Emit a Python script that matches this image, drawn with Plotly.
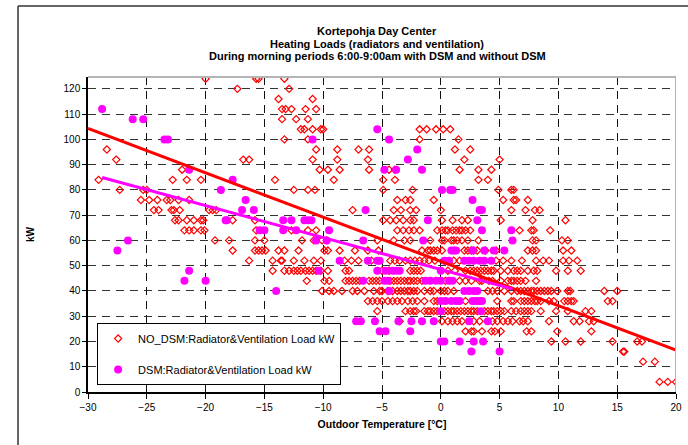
import plotly.graph_objects as go

# ---------------------------------------------------------------
# Heating loads (kW) vs outdoor temperature, morning periods.
# Loads are logged in 4 kW steps, so each list holds the outdoor
# temperatures observed at one load level.
# ---------------------------------------------------------------

# NO_DSM: radiator & ventilation load, temperatures per load level
nodsm_124 = [-20.0, -15.7, -15.5, -13.3]
nodsm_120 = [-17.3, -12.9]
nodsm_116 = [-13.8, -10.9]
nodsm_112 = [-13.5, -13.2, -12.7, -11.5, -10.6]
nodsm_108 = [-13.5, -12.3, -11.3]
nodsm_104 = [-11.9, -11.6, -10.9, -10.2, -10.0, -1.8, -1.2, -0.4, 0.2, 0.8]
nodsm_100 = [-13.3, -11.3, -1.8, 1.5]
nodsm_96 = [-28.4, -10.6, -8.8, -7.0, -6.1, 1.2, 2.5]
nodsm_92 = [-27.6, -16.8, -16.3, -10.9, -8.8, -6.2, 2.0, 5.0]
nodsm_88 = [-22.0, -10.3, -9.6, -8.6, -6.1, -4.4, -3.9, 1.6, 3.2, 4.3]
nodsm_84 = [-29.1, -22.8, -21.6, -20.4, -14.1, -9.1, -4.9, -3.9, 3.2, 4.0]
nodsm_80 = [-27.3, -25.3, -25.0, -12.5, -11.3, -10.7, -4.9, -2.4, 4.9, 6.0, 6.2]
nodsm_76 = [-25.5, -24.8, -24.1, -23.3, -23.0, -22.3, -21.4, -3.7, -3.0, -2.6,
            -0.6, 5.3, 6.2, 6.4, 7.4]
nodsm_72 = [-24.4, -24.0, -22.9, -22.7, -22.2, -19.7, -19.4, -19.1, -7.5, -4.0,
            -3.4, -2.6, -2.1, 0.0, 6.0, 7.2, 8.0, 8.4]
nodsm_68 = [-22.6, -22.3, -21.6, -21.0, -20.4, -20.2, -17.7, -15.8, -4.9, -4.3,
            -3.8, -3.2, -2.6, -2.3, 0.1, 1.0, 1.8, 2.3, 5.1, 7.8, 10.6]
nodsm_64 = [-21.8, -21.4, -21.0, -20.4, -20.1, -15.7, -12.7, -11.3, -10.6, -3.7,
            -3.2, -2.7, -2.3, -1.8, -0.3, 0.1, 0.4, 0.6, 1.0, 1.3, 1.6, 1.8,
            2.1, 2.5, 6.7, 7.7, 7.9, 9.3]
nodsm_60 = [-19.2, -18.0, -15.8, -15.0, -11.8, -10.8, -10.1, -9.7, -5.4, -4.0,
            -3.1, -2.6, -0.9, 0.1, 0.3, 0.9, 1.1, 1.4, 1.8, 2.3, 3.2, 7.8, 8.1,
            10.3, 10.8]
nodsm_56 = [-17.7, -15.8, -15.5, -15.2, -14.9, -13.8, -13.3, -12.1, -9.9, -9.6,
            -8.6, -7.3, -6.2, -5.3, -1.6, -1.1, -0.9, -0.6, -0.3, 0.1, 2.0, 2.3,
            2.6, 2.8, 3.1, 3.8, 4.7, 7.4, 7.8, 8.1, 10.4, 11.1]
nodsm_52 = [-16.3, -14.3, -13.6, -13.5, -12.5, -11.6, -10.8, -10.2, -8.2, -7.6,
            -7.0, -5.9, -4.3, -3.9, -3.5, -3.0, -2.6, -2.2, -1.8, -1.4, -1.0,
            -0.5, 1.1, 1.6, 4.7, 5.3, 6.0, 6.9, 8.1, 8.7, 9.2, 10.4, 10.9, 11.6]
nodsm_48 = [-14.3, -13.3, -12.9, -12.5, -12.2, -11.9, -11.5, -11.2, -10.9, -10.6,
            -10.2, -9.6, -8.1, -7.8, -5.0, -4.4, -2.6, -2.3, -2.0, -1.7, 0.6, 1.2,
            2.1, 2.5, 2.8, 3.1, 3.4, 3.7, 4.0, 4.3, 4.5, 5.1, 5.7, 6.2, 6.5, 6.8,
            7.4, 7.9, 8.2, 9.8, 10.8, 11.9]
nodsm_44 = [-11.4, -9.9, -9.5, -8.1, -7.8, -7.5, -7.2, -6.9, -6.1, -5.8, -5.5,
            -5.2, -4.3, -4.0, -3.7, -3.4, -3.1, -2.8, -2.6, -2.3, -2.0, -1.6, 0.4,
            1.6, 2.1, 2.6, 3.3, 3.5, 4.1, 4.4, 5.1, 5.7, 6.0, 6.2, 6.5, 6.8, 7.2,
            8.1]
nodsm_40 = [-10.1, -9.5, -9.1, -8.4, -7.5, -7.1, -6.5, -5.7, -5.2, -5.0, -4.5,
            -4.1, -3.7, -3.4, -3.1, -2.8, -2.6, -2.3, -2.0, -1.4, -0.9, -0.6, 0.0,
            0.3, 0.6, 1.1, 4.0, 4.4, 4.8, 5.4, 6.0, 6.5, 6.8, 7.1, 7.4, 7.7, 7.9,
            8.2, 8.5, 8.8, 9.1, 9.4, 9.9, 10.8, 11.0, 13.9, 15.0]
nodsm_36 = [-6.2, -5.8, -5.4, -5.0, -4.5, -4.1, -3.7, -3.3, -2.8, -2.4, -2.0,
            -1.4, -0.6, -0.3, 2.1, 4.8, 6.0, 6.2, 6.8, 7.1, 7.4, 7.7, 8.0, 8.2,
            8.5, 9.2, 9.6, 10.5, 10.8, 11.1, 11.3, 14.2, 14.6]
nodsm_32 = [-5.4, -3.0, -2.6, -2.3, -2.1, -1.4, -1.1, -0.9, -0.6, -0.3, 0.3, 0.6,
            0.9, 1.1, 1.4, 1.7, 2.0, 2.3, 2.6, 2.8, 3.1, 3.7, 4.0, 4.3, 4.5, 4.8,
            5.1, 5.4, 6.0, 6.4, 6.8, 7.1, 7.4, 7.7, 8.5, 9.8, 10.8, 12.3, 12.8]
nodsm_28 = [-3.5, 0.1, 0.6, 1.0, 1.4, 1.8, 2.8, 3.3, 4.4, 4.8, 5.3, 5.7, 6.1,
            6.7, 7.0, 7.4, 9.2, 11.3, 11.8, 12.6, 13.0]
nodsm_24 = [2.1, 2.6, 2.8, 3.5, 4.3, 4.6, 5.1, 7.3, 7.7, 9.9, 12.8]
nodsm_20 = [9.4, 10.6, 11.9, 14.6, 16.7, 17.1]
nodsm_16 = [15.5, 15.6]
nodsm_12 = [17.2, 18.2]
nodsm_4 = [18.6, 19.3, 20.0]

# DSM: radiator & ventilation load, temperatures per load level
dsm_112 = [-28.8]
dsm_108 = [-26.2, -25.3]
dsm_104 = [-5.4]
dsm_100 = [-23.5, -23.2, -10.9, -4.4]
dsm_96 = [-2.0]
dsm_92 = [-2.8]
dsm_88 = [-21.4, -4.8, -3.8, -1.6]
dsm_84 = [-17.7]
dsm_80 = [-18.7, 0.1, 0.8, 1.0]
dsm_76 = [-16.6, 2.7]
dsm_72 = [-16.9, -15.9, -6.4, 3.3, 3.5]
dsm_68 = [-18.3, -18.2, -13.4, -12.7, -11.6, -11.3, -11.0, -1.1, 3.1]
dsm_64 = [-15.4, -15.0, -13.4, -12.3, -9.5, 3.5, 6.0]
dsm_60 = [-26.6, -10.6, -9.7, -6.6, -1.5, 6.1]
dsm_56 = [-27.5, 0.9, 1.1, 1.3, 2.7, 3.7, 4.5, 5.4]
dsm_52 = [-8.6, -6.2, -5.4, -5.2, 0.3, 0.7, 2.0, 2.4, 2.8, 3.3, 3.7, 4.3]
dsm_48 = [-21.4, -10.4, -5.4, -4.7, -4.1, -3.8, -3.5, 0.0]
dsm_44 = [-21.8, -20.0, -6.6, -4.8, -4.5, -1.3, -0.9, -0.4, 0.0, 0.7, 1.0]
dsm_40 = [-14.0, -4.4, 2.0, 2.4, 2.8, 3.1]
dsm_36 = [0.0, 0.4, 0.9, 1.3, 1.6, 2.7, 3.0, 3.3, 3.5]
dsm_32 = [0.0, 3.4]
dsm_28 = [-7.2, -6.8, -5.6, -3.6, -2.5, -1.6, -0.6, 2.4, 4.0]
dsm_24 = [-5.2, -4.7, -2.6]
dsm_20 = [0.0, 0.3, 1.6, 2.8, 3.6]
dsm_16 = [2.6, 5.0]

# Linear trend lines (slope kW/degC, load at 0 degC)
trend_nodsm_slope, trend_nodsm_at0 = -1.754, 51.7
trend_dsm_slope, trend_dsm_at0 = -1.265, 48.5

title_lines = [
    "Kortepohja Day Center",
    "Heating Loads (radiators and ventilation)",
    "During morning periods 6:00-9:00am with DSM and without DSM",
]
x_ticks = [-30, -25, -20, -15, -10, -5, 0, 5, 10, 15, 20]
y_ticks = [0, 10, 20, 30, 40, 50, 60, 70, 80, 90, 100, 110, 120]
x_range = [-30, 20]
y_range = [0, 124.7]

nodsm_levels = [
    (124, nodsm_124), (120, nodsm_120), (116, nodsm_116), (112, nodsm_112),
    (108, nodsm_108), (104, nodsm_104), (100, nodsm_100), (96, nodsm_96),
    (92, nodsm_92), (88, nodsm_88), (84, nodsm_84), (80, nodsm_80),
    (76, nodsm_76), (72, nodsm_72), (68, nodsm_68), (64, nodsm_64),
    (60, nodsm_60), (56, nodsm_56), (52, nodsm_52), (48, nodsm_48),
    (44, nodsm_44), (40, nodsm_40), (36, nodsm_36), (32, nodsm_32),
    (28, nodsm_28), (24, nodsm_24), (20, nodsm_20), (16, nodsm_16),
    (12, nodsm_12), (4, nodsm_4),
]
dsm_levels = [
    (112, dsm_112), (108, dsm_108), (104, dsm_104), (100, dsm_100),
    (96, dsm_96), (92, dsm_92), (88, dsm_88), (84, dsm_84), (80, dsm_80),
    (76, dsm_76), (72, dsm_72), (68, dsm_68), (64, dsm_64), (60, dsm_60),
    (56, dsm_56), (52, dsm_52), (48, dsm_48), (44, dsm_44), (40, dsm_40),
    (36, dsm_36), (32, dsm_32), (28, dsm_28), (24, dsm_24), (20, dsm_20),
    (16, dsm_16),
]


def flatten(levels):
    xs, ys = [], []
    for load, temps in levels:
        xs.extend(temps)
        ys.extend([load] * len(temps))
    return xs, ys


nodsm_x, nodsm_y = flatten(nodsm_levels)
dsm_x, dsm_y = flatten(dsm_levels)

RED = "#ff0000"
MAGENTA = "#ff00ff"
FONT = "Arial, Liberation Sans, sans-serif"

fig = go.Figure()

fig.add_trace(go.Scatter(
    x=nodsm_x, y=nodsm_y, mode="markers",
    name="NO_DSM:Radiator&Ventilation Load kW", legendgroup="a",
    marker=dict(symbol="diamond-open", size=5.5, color=RED,
                line=dict(color=RED, width=1.2)),
))
fig.add_trace(go.Scatter(
    x=dsm_x, y=dsm_y, mode="markers",
    name="DSM:Radiator&Ventilation Load kW", legendgroup="b",
    marker=dict(symbol="circle", size=8, color=MAGENTA,
                line=dict(width=0)),
))

# trend lines
tx_nodsm = [x_range[0], x_range[1]]
ty_nodsm = [trend_nodsm_at0 + trend_nodsm_slope * t for t in tx_nodsm]
fig.add_trace(go.Scatter(
    x=tx_nodsm, y=ty_nodsm, mode="lines", showlegend=False,
    line=dict(color=RED, width=3), hoverinfo="skip",
))
tx_dsm = [min(dsm_x), max(dsm_x)]
ty_dsm = [trend_dsm_at0 + trend_dsm_slope * t for t in tx_dsm]
fig.add_trace(go.Scatter(
    x=tx_dsm, y=ty_dsm, mode="lines", showlegend=False,
    line=dict(color=MAGENTA, width=3), hoverinfo="skip",
))

fig.update_layout(
    width=688, height=445,
    margin=dict(l=88, r=12, t=77, b=53, autoexpand=False),
    paper_bgcolor="white", plot_bgcolor="white",
    font=dict(family=FONT, color="black", size=10),
    showlegend=True,
    legend=dict(
        x=0.0155, y=0.219, xanchor="left", yanchor="top",
        bgcolor="white", bordercolor="black", borderwidth=1,
        font=dict(family=FONT, size=11, color="black"),
        tracegroupgap=12, itemwidth=30,
    ),
    xaxis=dict(
        range=x_range, tickvals=x_ticks, ticks="outside", ticklen=5,
        tickcolor="black", tickwidth=1, automargin=False,
        showline=True, linecolor="black", linewidth=1.5,
        showgrid=True, gridcolor="#111111", gridwidth=1, griddash="8px,6px",
        zeroline=False, tickfont=dict(size=10),
        title=dict(text="<b>Outdoor Temperature [°C]</b>", standoff=9,
                   font=dict(size=10.5)),
    ),
    yaxis=dict(
        range=y_range, tickvals=y_ticks, ticks="outside", ticklen=4,
        tickcolor="black", tickwidth=1, automargin=False,
        showline=True, linecolor="black", linewidth=1.5,
        showgrid=True, gridcolor="#333333", gridwidth=1, griddash="8px,6px",
        zeroline=False, tickfont=dict(size=10),
        title=dict(text="<b>kW</b>", standoff=27, font=dict(size=10)),
    ),
)

# three-line chart heading
for line_text, ypos in zip(title_lines, [1.146, 1.106, 1.066]):
    fig.add_annotation(
        text="<b>" + line_text + "</b>", xref="paper", yref="paper",
        x=0.4915, y=ypos, xanchor="center", yanchor="middle", showarrow=False,
        font=dict(family=FONT, size=11, color="black"),
    )

# gray top/right edges of the plotting area
fig.add_shape(type="line", xref="paper", yref="paper", x0=0, x1=1, y0=1, y1=1,
              line=dict(color="#b4b4b4", width=2))
fig.add_shape(type="line", xref="x", yref="paper", x0=x_range[1], x1=x_range[1],
              y0=0, y1=1, line=dict(color="#b4b4b4", width=2))
# outer chart frame (left and top edges)
fig.add_shape(type="line", xref="paper", yref="paper",
              x0=-0.119, x1=-0.119, y0=-0.3, y1=1.2254,
              line=dict(color="#333333", width=1.5))
fig.add_shape(type="line", xref="paper", yref="paper",
              x0=-0.119, x1=1.1, y0=1.2254, y1=1.2254,
              line=dict(color="#333333", width=1.5))

fig.write_html("out.html")
